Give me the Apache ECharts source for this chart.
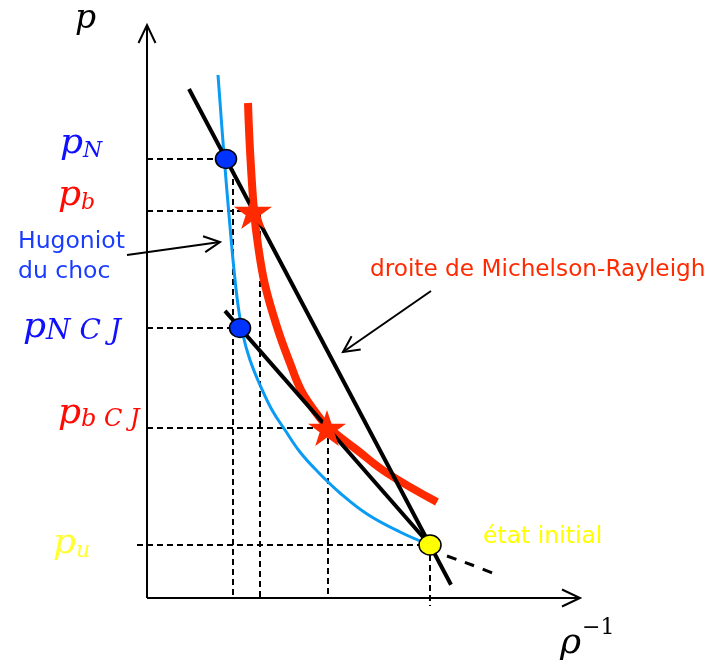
<!DOCTYPE html>
<html>
<head>
<meta charset="utf-8">
<script src="https://cdn.jsdelivr.net/npm/echarts@6/dist/echarts.min.js"></script>
<style>
  html, body { margin: 0; padding: 0; background: #ffffff; }
  #chart { width: 709px; height: 662px; }
</style>
</head>
<body>
<div id="chart"></div>
<script>
// Specific volume (rho^-1) and pressure, arbitrary units.

// Shock Hugoniot of the fresh mixture (thin blue curve)
const shockHugoniotV = [0.71, 0.77, 0.82, 0.87, 0.91, 0.96, 1.03, 1.13, 1.25, 1.38, 1.53, 1.71, 1.93, 2.20, 2.53, 2.83];
const shockHugoniotP = [5.23, 4.43, 3.83, 3.28, 2.93, 2.63, 2.38, 2.13, 1.88, 1.68, 1.46, 1.26, 1.05, 0.84, 0.66, 0.53];
// its continuation below the initial state (dashed)
const shockHugoniotExtV = [3.00, 3.25, 3.48];
const shockHugoniotExtP = [0.42, 0.33, 0.24];

// Hugoniot of the burnt gases (thick red curve)
const burntHugoniotV = [1.01, 1.03, 1.07, 1.11, 1.18, 1.31, 1.43, 1.54, 1.67, 1.81, 2.10, 2.40, 2.90];
const burntHugoniotP = [4.95, 4.48, 3.87, 3.53, 3.13, 2.68, 2.35, 2.08, 1.88, 1.71, 1.48, 1.25, 0.96];

// Remarkable states: von Neumann, burnt, CJ von Neumann, CJ burnt, initial
const stateSub = ['N', 'b', 'NCJ', 'bCJ', 'u'];
const stateV = [0.79, 1.06, 0.93, 1.80, 2.83];
const stateP = [4.39, 3.87, 2.70, 1.70, 0.53];

// Rayleigh lines: both pass through the initial state (index 4)
const rayleighThrough = [0, 2];          // the other state each line passes through
const rayleighFromV = [0.42, 0.78];
const rayleighToV = [3.04, 2.83];

// Vertical projections of the states onto the volume axis
const dropState = [0, 1, 3, 4];
const dropV = [0.86, 1.13, 1.81, 2.83];

// Axes extents
const axisMaxV = 4.33;
const axisMaxP = 5.73;

// Annotation arrows [fromV, fromP, toV, toP]
const hugoniotArrow = [-0.20, 3.43, 0.73, 3.56];
const rayleighArrow = [2.84, 3.07, 1.96, 2.46];

// ---------------------------------------------------------------------------
const BLUE_TXT = '#1010ff';
const RED_TXT = '#ff0a00';
const YELLOW_TXT = '#ffff33';
const stateColor = [BLUE_TXT, RED_TXT, BLUE_TXT, RED_TXT, YELLOW_TXT];
const stateSubText = stateSub.map(s => s.length > 1 ? s.split('').join(' ') : s);
const stateSubSize = [22, 22, 28, 24, 22];
// label placement relative to the axis point of each pressure level
const stateLabelOffset = [[-87, -15], [-89, -15], [-124, 0], [-89, -14], [-94, -1]];

const MATH_FONT = '"DejaVu Serif", "Liberation Serif", serif';
function mathRich(color, pSize, subSize) {
  return {
    p: { fontFamily: MATH_FONT, fontStyle: 'italic', fontSize: pSize, lineHeight: pSize, color: color },
    s: { fontFamily: MATH_FONT, fontStyle: 'italic', fontSize: subSize, lineHeight: 14, color: color, verticalAlign: 'bottom' },
    e: { fontFamily: MATH_FONT, fontSize: subSize, lineHeight: subSize, color: color }
  };
}

function zip(xs, ys) { return xs.map((x, i) => [x, ys[i]]); }

function arrowRenderer(head) {
  return function (params, api) {
    const a = api.coord([api.value(0), api.value(1)]);
    const b = api.coord([api.value(2), api.value(3)]);
    const dx = b[0] - a[0], dy = b[1] - a[1];
    const len = Math.hypot(dx, dy), ux = dx / len, uy = dy / len;
    const bx = b[0] - ux * head.len, by = b[1] - uy * head.len;
    const w1 = [bx - uy * head.half, by + ux * head.half];
    const w2 = [bx + uy * head.half, by - ux * head.half];
    const style = { stroke: '#000', lineWidth: head.width, fill: null, lineJoin: 'miter' };
    return {
      type: 'group',
      children: [
        { type: 'line', shape: { x1: a[0], y1: a[1], x2: b[0], y2: b[1] }, style: style },
        { type: 'polyline', shape: { points: [w1, b, w2] }, style: style }
      ]
    };
  };
}

const series = [];

// dashed projection lines
const dash = { color: '#000', width: 2, type: [6, 4] };
stateP.forEach((p, i) => {
  const from = i === 4 ? -0.10 : 0;
  series.push({ type: 'line', data: [[from, p], [stateV[i], p]], symbol: 'none', clip: false,
    lineStyle: dash, z: 1, silent: true });
});
dropState.forEach((s, k) => {
  const bottom = s === 4 ? -0.08 : 0;
  series.push({ type: 'line', data: [[dropV[k], stateP[s]], [dropV[k], bottom]], symbol: 'none', clip: false,
    lineStyle: dash, z: 1, silent: true });
});

// axes with open arrow heads
series.push({
  type: 'custom', clip: false, z: 2, silent: true,
  renderItem: arrowRenderer({ len: 18, half: 8.5, width: 2 }),
  data: [[0, 0, 0, axisMaxP], [0, 0, axisMaxV, 0]]
});

// shock Hugoniot
series.push({ type: 'line', data: zip(shockHugoniotV, shockHugoniotP), smooth: 0.4,
  symbol: 'none', clip: false, lineStyle: { color: '#0a9bf5', width: 3 }, z: 3 });
series.push({ type: 'line', data: zip(shockHugoniotExtV, shockHugoniotExtP), smooth: 0.3, symbol: 'none', clip: false,
  lineStyle: { color: '#000', width: 3, type: [10, 9] }, z: 3 });

// burnt gas Hugoniot
series.push({ type: 'line', data: zip(burntHugoniotV, burntHugoniotP), smooth: 0.4,
  symbol: 'none', clip: false, lineStyle: { color: '#ff2a00', width: 8, cap: 'butt' }, z: 4 });

// Rayleigh lines through the initial state
rayleighThrough.forEach((s, k) => {
  const slope = (stateP[s] - stateP[4]) / (stateV[s] - stateV[4]);
  const pAt = v => stateP[4] + slope * (v - stateV[4]);
  series.push({ type: 'line', data: [[rayleighFromV[k], pAt(rayleighFromV[k])], [rayleighToV[k], pAt(rayleighToV[k])]],
    symbol: 'none', clip: false, lineStyle: { color: '#000', width: 4 }, z: 5 });
});

// annotation arrows
series.push({
  type: 'custom', clip: false, z: 6, silent: true,
  renderItem: arrowRenderer({ len: 16, half: 8, width: 2 }),
  data: [hugoniotArrow, rayleighArrow]
});

// states
const STAR = 'path://M50,0 L61.8,35.1 L98.9,35.1 L68.9,56.8 L80.3,91.9 L50,70.2 L19.7,91.9 L31.1,56.8 L1.1,35.1 L38.2,35.1 Z';
series.push({
  type: 'scatter', clip: false, z: 8, silent: true,
  itemStyle: { opacity: 1 },
  data: stateV.map((v, i) => {
    const item = { value: [v, stateP[i]] };
    if (i === 0 || i === 2) {
      item.symbol = 'circle'; item.symbolSize = [21, 19];
      item.itemStyle = { color: '#0033ff', borderColor: '#000', borderWidth: 1.5, opacity: 1 };
    } else if (i === 4) {
      item.symbol = 'circle'; item.symbolSize = [22, 20];
      item.itemStyle = { color: '#ffff00', borderColor: '#000', borderWidth: 1.5, opacity: 1 };
    } else {
      item.symbol = STAR; item.symbolSize = [38, 36];
      item.itemStyle = { color: '#ff2a00', opacity: 1 };
    }
    return item;
  })
});

// pressure labels on the p axis, plus the axis titles
const labelItems = stateP.map((p, i) => ({
  value: [0, p],
  label: {
    show: true, position: stateLabelOffset[i], align: 'left', verticalAlign: 'middle',
    formatter: '{p|p}{s|' + stateSubText[i] + '}', rich: mathRich(stateColor[i], 36, stateSubSize[i])
  }
}));
labelItems.push({
  value: [0, axisMaxP],
  label: { show: true, position: [-72, -6], align: 'left', verticalAlign: 'middle',
    formatter: '{p|p}', rich: mathRich('#000', 33, 22) }
});
labelItems.push({
  value: [axisMaxV, 0],
  label: { show: true, position: [-20, 46], align: 'left', verticalAlign: 'middle',
    formatter: '{p|\u03c1}', rich: mathRich('#000', 36, 22) }
});
labelItems.push({
  value: [axisMaxV, 0],
  label: { show: true, position: [2, 30], align: 'left', verticalAlign: 'middle',
    formatter: '{e|\u22121}', rich: mathRich('#000', 36, 22) }
});
series.push({
  type: 'scatter', clip: false, z: 9, silent: true,
  symbolSize: 0.01, itemStyle: { color: 'rgba(0,0,0,0)', opacity: 1 },
  data: labelItems
});

const chart = echarts.init(document.getElementById('chart'), null, { renderer: 'canvas' });
chart.setOption({
  backgroundColor: '#ffffff',
  animation: false,
  grid: { left: 97, right: 112, top: 8, bottom: 34 },
  xAxis: { type: 'value', min: -0.5, max: 4.5, show: false },
  yAxis: { type: 'value', min: -0.3, max: 5.9, show: false },
  series: series,
  graphic: [
    { type: 'text', left: 18, top: 227, silent: true,
      style: { text: 'Hugoniot\ndu choc', font: '23.5px "DejaVu Sans", sans-serif', fill: '#1a3cff', lineHeight: 30 } },
    { type: 'text', left: 370, top: 256, silent: true,
      style: { text: 'droite de Michelson-Rayleigh', font: '23.2px "DejaVu Sans", sans-serif', fill: '#ff2a00', lineHeight: 28 } },
    { type: 'text', left: 483, top: 523, silent: true,
      style: { text: '\u00e9tat initial', font: '23.5px "DejaVu Sans", sans-serif', fill: '#ffff00', lineHeight: 28 } }
  ]
});
</script>
</body>
</html>
